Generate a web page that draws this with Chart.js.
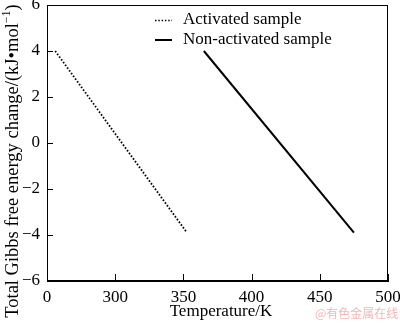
<!DOCTYPE html>
<html><head><meta charset="utf-8">
<script src="https://cdn.jsdelivr.net/npm/chart.js@4/dist/chart.umd.min.js"></script>
<style>html,body{margin:0;padding:0;background:#fff}#c{display:block}</style>
</head><body>
<canvas id="c" width="400" height="323"></canvas>
<script>
// ---- data ----
const seriesNames = ['Activated sample', 'Non-activated sample'];
const activatedT = [256, 352];
const activatedG = [4.0, -3.85];
const nonActivatedT = [365, 475];
const nonActivatedG = [4.0, -3.9];
const xTickValues = [250, 300, 350, 400, 450, 500];
const xTickLabels = ['0', '300', '350', '400', '450', '500'];
const yTickValues = [-6, -4, -2, 0, 2, 4, 6];
const xTitle = 'Temperature/K';
const yTitleMain = 'Total Gibbs free energy change/(kJ\u2022mol';
const yTitleSup = '\u22121';
const yTitleEnd = ')';
const watermark = '@有色金属在线';

const FONT = '"Liberation Serif", "Times New Roman", serif';

function pts(xs, ys) { return xs.map((x, i) => ({x: x, y: ys[i]})); }

const decor = {
  id: 'decor',
  afterDraw(chart) {
    const ctx = chart.ctx, a = chart.chartArea;
    const xs = chart.scales.x, ys = chart.scales.y;
    ctx.save();
    ctx.strokeStyle = '#000'; ctx.lineWidth = 1;
    ctx.strokeRect(a.left + 0.5, a.top + 0.5, a.right - a.left - 1, a.bottom - a.top - 1);
    ctx.beginPath();
    yTickValues.forEach(v => {
      const y = Math.round(ys.getPixelForValue(v)) + 0.5;
      ctx.moveTo(a.left, y); ctx.lineTo(a.left + 6, y);
    });
    xTickValues.forEach(v => {
      const x = Math.round(xs.getPixelForValue(v)) + 0.5;
      ctx.moveTo(x, a.bottom); ctx.lineTo(x, a.bottom - 7);
    });
    ctx.stroke();
    // legend
    ctx.fillStyle = '#000';
    ctx.font = '17px ' + FONT;
    ctx.textBaseline = 'middle';
    ctx.textAlign = 'left';
    const lx0 = 155, lx1 = 172, tx = 183;
    ctx.lineWidth = 1.6;
    ctx.setLineDash([1.5, 1.8]);
    ctx.beginPath(); ctx.moveTo(lx0, 20.5); ctx.lineTo(lx1, 20.5); ctx.stroke();
    ctx.setLineDash([]);
    ctx.lineWidth = 2;
    ctx.beginPath(); ctx.moveTo(lx0, 40); ctx.lineTo(lx1, 40); ctx.stroke();
    ctx.fillText(seriesNames[0], tx, 20);
    ctx.fillText(seriesNames[1], tx, 40);
    // x title
    ctx.textAlign = 'center';
    ctx.fillText(xTitle, 221, 312);
    // y title
    ctx.save();
    ctx.translate(13, 161);
    ctx.rotate(-Math.PI / 2);
    const big = '18.5px ' + FONT, small = '12px ' + FONT;
    ctx.font = big;
    const w1 = ctx.measureText(yTitleMain).width;
    const w3 = ctx.measureText(yTitleEnd).width;
    ctx.font = small;
    const w2 = ctx.measureText(yTitleSup).width;
    const total = w1 + w2 + w3;
    let x = -total / 2;
    ctx.textAlign = 'left';
    ctx.font = big;
    ctx.fillText(yTitleMain, x, 0); x += w1;
    ctx.font = small;
    ctx.fillText(yTitleSup, x, -6); x += w2;
    ctx.font = big;
    ctx.fillText(yTitleEnd, x, 0);
    ctx.restore();
    // watermark
    ctx.font = '12px "Noto Sans CJK SC", sans-serif';
    ctx.fillStyle = '#f2b6b6';
    ctx.textAlign = 'left';
    ctx.fillText(watermark, 315, 313);
    ctx.restore();
  }
};

new Chart(document.getElementById('c'), {
  type: 'scatter',
  data: {
    datasets: [
      { label: seriesNames[0], data: pts(activatedT, activatedG), showLine: true,
        borderColor: '#000', borderWidth: 1.8, borderDash: [1.6, 1.8], pointRadius: 0, fill: false },
      { label: seriesNames[1], data: pts(nonActivatedT, nonActivatedG), showLine: true,
        borderColor: '#000', borderWidth: 2, pointRadius: 0, fill: false }
    ]
  },
  options: {
    responsive: false, animation: false,
    layout: { padding: { top: 5, right: 12, left: 0, bottom: 0 } },
    plugins: { legend: { display: false }, tooltip: { enabled: false } },
    scales: {
      x: {
        type: 'linear', min: 250, max: 500,
        afterBuildTicks: s => { s.ticks = xTickValues.map(v => ({value: v})); },
        afterFit: s => { s.height = 42; s.paddingLeft = 0; s.paddingRight = 0; },
        grid: { display: false, drawTicks: false },
        border: { display: true, color: '#000' },
        ticks: { color: '#000', font: { family: FONT, size: 17 }, padding: 6, maxRotation: 0,
          callback: (v) => { const i = xTickValues.indexOf(v); return i >= 0 ? xTickLabels[i] : ''; } }
      },
      y: {
        min: -6, max: 6,
        afterBuildTicks: s => { s.ticks = yTickValues.map(v => ({value: v})); },
        afterFit: s => { s.width = 47; s.paddingTop = 0; s.paddingBottom = 0; },
        grid: { display: false, drawTicks: false },
        border: { display: true, color: '#000' },
        ticks: { color: '#000', font: { family: FONT, size: 17 }, padding: 7,
          callback: v => String(v).replace('-', '\u2212') }
      }
    }
  },
  plugins: [decor]
});
</script>
</body></html>
